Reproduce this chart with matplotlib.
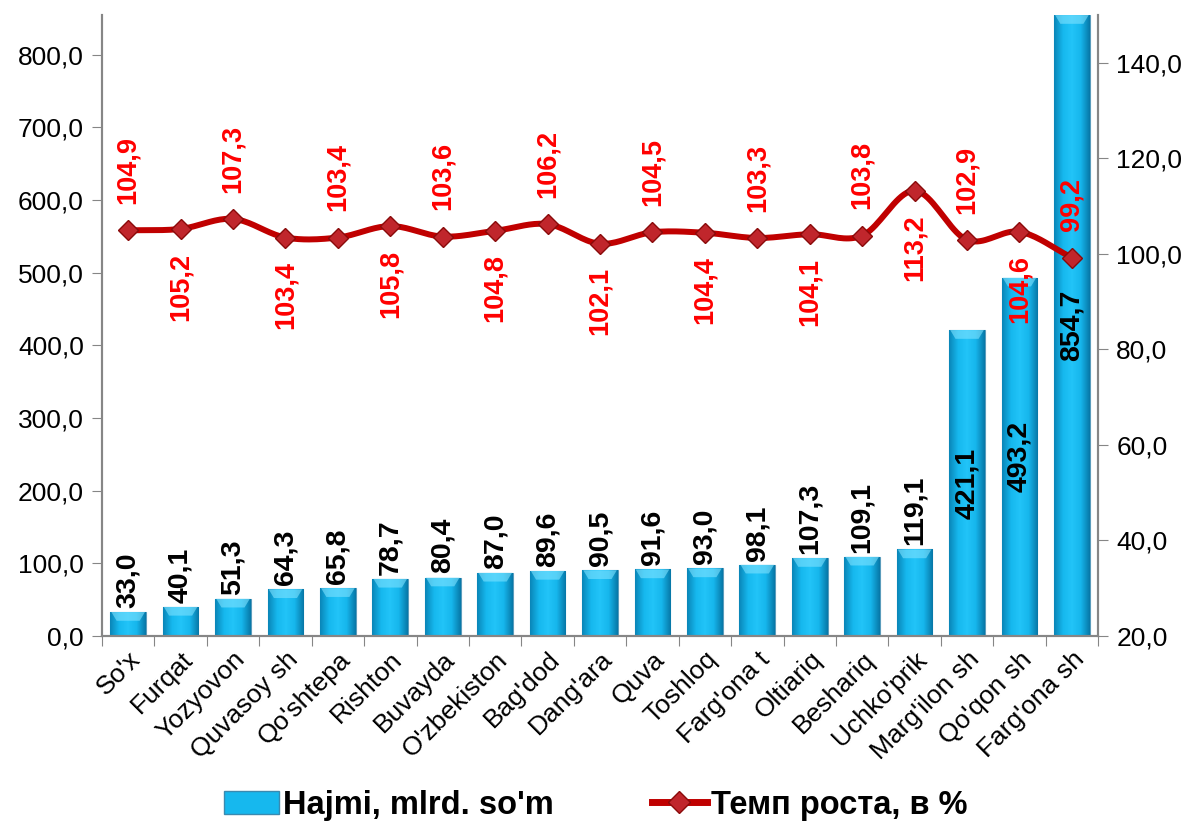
import numpy as np
import matplotlib
matplotlib.use("Agg")
from matplotlib import pyplot as plt
from matplotlib.patches import Patch
from matplotlib.lines import Line2D
from matplotlib.colors import LinearSegmentedColormap

plt.rcParams['font.family'] = ['Liberation Sans', 'DejaVu Sans']

# data
regions = ["So'x", "Furqat", "Yozyovon", "Quvasoy sh", "Qo'shtepa", "Rishton",
           "Buvayda", "O'zbekiston", "Bag'dod", "Dang'ara", "Quva", "Toshloq",
           "Farg'ona t", "Oltiariq", "Beshariq", "Uchko'prik", "Marg'ilon sh",
           "Qo'qon sh", "Farg'ona sh"]
hajmi = [33.0, 40.1, 51.3, 64.3, 65.8, 78.7, 80.4, 87.0, 89.6, 90.5, 91.6,
         93.0, 98.1, 107.3, 109.1, 119.1, 421.1, 493.2, 854.7]
temp = [104.9, 105.2, 107.3, 103.4, 103.4, 105.8, 103.6, 104.8, 106.2, 102.1,
        104.5, 104.4, 103.3, 104.1, 103.8, 113.2, 102.9, 104.6, 99.2]
left_ticks = [0, 100, 200, 300, 400, 500, 600, 700, 800]
right_ticks = [20, 40, 60, 80, 100, 120, 140]


def fmt(v):
    return f"{v:.1f}".replace('.', ',')


def catmull(xs, ys, n=20):
    # smooth line like excel
    xs = np.asarray(xs, float); ys = np.asarray(ys, float)
    px = np.concatenate([[2*xs[0]-xs[1]], xs, [2*xs[-1]-xs[-2]]])
    py = np.concatenate([[2*ys[0]-ys[1]], ys, [2*ys[-1]-ys[-2]]])
    ox, oy = [], []
    t = np.linspace(0, 1, n, endpoint=False)
    for i in range(1, len(px)-2):
        for P, out in ((px, ox), (py, oy)):
            p0, p1, p2, p3 = P[i-1], P[i], P[i+1], P[i+2]
            out.extend(0.5*((2*p1) + (-p0+p2)*t + (2*p0-5*p1+4*p2-p3)*t**2
                            + (-p0+3*p1-3*p2+p3)*t**3))
    ox.append(xs[-1]); oy.append(ys[-1])
    return np.array(ox), np.array(oy)


fig = plt.figure(figsize=(11.91, 8.26), dpi=100)
ax = fig.add_axes([0.0856, 0.230, 0.8364, 0.752])
ax2 = ax.twinx()

x = np.arange(len(regions))
gray = '#868686'
bw = 0.68
bars = ax.bar(x, hajmi, width=bw, color='#14b4ea', edgecolor='#5a9cbc',
              linewidth=0.8, zorder=2)

# gradient on bars
cmap = LinearSegmentedColormap.from_list('b', ['#0a86b8', '#16b8ee', '#22c4f8', '#16b6ec', '#0778a8'])
grad = np.linspace(0, 1, 64).reshape(1, -1)
for b in bars:
    im = ax.imshow(grad, cmap=cmap, aspect='auto', zorder=2.1,
                   extent=[b.get_x(), b.get_x()+b.get_width(), 0, b.get_height()])
    im.set_clip_path(b)
    # light bevel on top
    top = min(b.get_height(), 12)
    h = b.get_height()
    ax.fill([b.get_x()+0.02, b.get_x()+b.get_width()-0.02,
             b.get_x()+b.get_width()-0.12, b.get_x()+0.12],
            [h, h, h-top, h-top], color='#7fe2ff', alpha=0.6,
            zorder=2.2, linewidth=0)

for xi, v in zip(x, hajmi):
    if v > 300:
        ax.text(xi, v/2, fmt(v), rotation=90, ha='center', va='center',
                fontsize=20.5, fontweight='bold', color='black', zorder=5)
    else:
        ax.annotate(fmt(v), (xi, v), xytext=(0, 3), textcoords='offset points',
                    rotation=90, ha='center', va='bottom', fontsize=20.5,
                    fontweight='bold', color='black', zorder=5)

ax.set_xlim(-0.5, len(regions)-0.5)
ax.set_ylim(0, 855)
ax.set_yticks(left_ticks)
ax.set_yticklabels([fmt(v) for v in left_ticks], fontsize=19)
ax.set_xticks(np.arange(len(regions)+1)-0.5)
ax.set_xticklabels([])
ax.set_xticks(x, minor=True)
ax.set_xticklabels(regions, minor=True, rotation=45, ha='right', va='top',
                   rotation_mode='anchor', fontsize=19)
ax.tick_params(axis='x', which='minor', length=0, pad=8)
ax.tick_params(axis='x', which='major', length=7, color=gray, direction='out')
ax.tick_params(axis='y', length=7, color=gray, direction='out', pad=6)

# line
sx, sy = catmull(x, temp)
ax2.plot(sx, sy, color='#c00000', linewidth=4.3, zorder=3, solid_capstyle='round')
ax2.plot(x, temp, linestyle='none', marker='D', markersize=10,
         markerfacecolor='#c0262c', markeredgecolor='#8a0a0a', markeredgewidth=1, zorder=4)
for i, (xi, v) in enumerate(zip(x, temp)):
    if i % 2 == 0:
        ax2.annotate(fmt(v), (xi, v), xytext=(0, 19), textcoords='offset points',
                     rotation=90, ha='center', va='bottom', fontsize=19.5,
                     fontweight='bold', color='#ff0000', zorder=6)
    else:
        ax2.annotate(fmt(v), (xi, v), xytext=(0, -17), textcoords='offset points',
                     rotation=90, ha='center', va='top', fontsize=19.5,
                     fontweight='bold', color='#ff0000', zorder=6)
ax2.set_ylim(20, 150)
ax2.set_yticks(right_ticks)
ax2.set_yticklabels([fmt(v) for v in right_ticks], fontsize=19)
ax2.tick_params(axis='y', length=7, color=gray, direction='out', pad=6)

for a in (ax, ax2):
    a.spines['top'].set_visible(False)
    for s in ('left', 'right', 'bottom'):
        a.spines[s].set_color(gray)
        a.spines[s].set_linewidth(1.5)

handles = [Patch(facecolor='#16b8ee', edgecolor='#3a8ab0'),
           Line2D([0], [0], color='#c00000', linewidth=5, marker='D',
                  markersize=11, markerfacecolor='#c0262c', markeredgecolor='#8a0a0a')]
fig.legend(handles, ["Hajmi, mlrd. so'm", "Темп роста, в %"], loc='center',
           bbox_to_anchor=(0.5, 0.025), ncol=2, frameon=False,
           prop={'weight': 'bold', 'size': 23.5},
           handlelength=1.7, handletextpad=0.12, columnspacing=3.0)

fig.savefig('out.png', dpi=100)
